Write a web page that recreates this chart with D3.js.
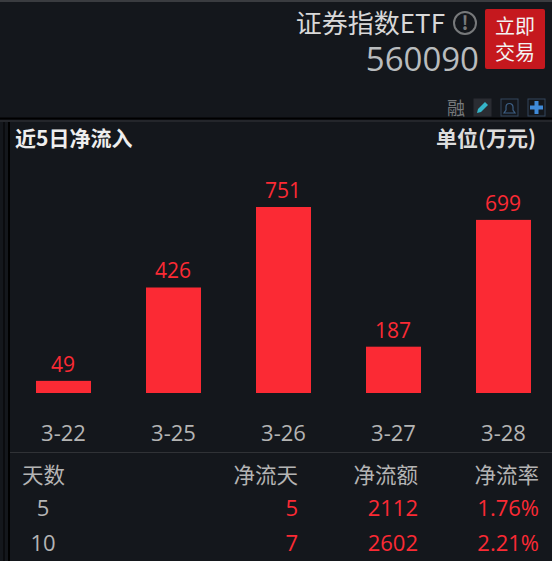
<!DOCTYPE html>
<html lang="zh">
<head>
  <meta charset="UTF-8" />
  <title>近5日净流入</title>
  <script src="https://d3js.org/d3.v7.min.js"></script>
  <style>
    html, body { margin: 0; background: #14171c; overflow: hidden; }
    svg { display: block; }
    text { font-family: "Noto Sans CJK SC", sans-serif; }
    .num { font-family: "Open Sans", "Noto Sans", sans-serif; }
  </style>
</head>
<body>
  <svg id="chart" width="552" height="561"></svg>
  <script>
    // bar data
    const dates = ['3-22', '3-25', '3-26', '3-27', '3-28'];
    const inflows = [49, 426, 751, 187, 699];

    // table below the bars
    const tableHead = ['天数', '净流天', '净流额', '净流率'];
    const tableDays = ['5', '10'];
    const tableFlowDays = ['5', '7'];
    const tableAmount = ['2112', '2602'];
    const tableRate = ['1.76%', '2.21%'];

    const RED = '#fb2a34';
    const GREY = '#b4b4b4';

    const svg = d3.select('#chart');

    const txt = (x, y, s, size, fill, anchor, weight, cls) =>
      svg.append('text')
        .attr('x', x).attr('y', y)
        .attr('font-size', size)
        .attr('fill', fill)
        .attr('text-anchor', anchor || 'start')
        .attr('font-weight', weight || 400)
        .attr('class', cls || null)
        .text(s);

    const rule = (x1, y1, x2, y2, color, w) =>
      svg.append('line')
        .attr('x1', x1).attr('y1', y1).attr('x2', x2).attr('y2', y2)
        .attr('stroke', color).attr('stroke-width', w);

    // ----- window chrome -----
    rule(0, 1, 552, 1, '#3a3c40', 2);
    rule(0, 118.5, 552, 118.5, '#000', 2);
    rule(0, 121, 552, 121, '#34363a', 1);
    rule(4, 122, 4, 561, '#000', 1);
    rule(9, 122, 9, 561, '#000', 2);

    // ----- header -----
    txt(445, 33, '证券指数ETF', 26, '#d8d8d8', 'end');
    txt(479, 71, '560090', 33, '#b9bcbe', 'end', 400, 'num');

    // info icon
    svg.append('circle').attr('cx', 465).attr('cy', 23).attr('r', 11)
      .attr('fill', 'none').attr('stroke', '#77797b').attr('stroke-width', 2);
    txt(465, 30, '!', 19, '#77797b', 'middle', 700);

    // buy button, two lines in one text
    svg.append('rect').attr('x', 485).attr('y', 9).attr('width', 60).attr('height', 60)
      .attr('rx', 2).attr('fill', '#c5181e');
    const buy = txt(515, 34, '', 20, '#f2f2f2', 'middle');
    buy.append('tspan').attr('x', 515).attr('y', 34).text('立即');
    buy.append('tspan').attr('x', 515).attr('y', 60).text('交易');

    // toolbar
    txt(456, 115, '融', 18, '#77797b', 'middle');
    const toolBox = (x, stroke, fill) => svg.append('rect')
      .attr('x', x).attr('y', 99).attr('width', 17).attr('height', 17)
      .attr('fill', fill).attr('stroke', stroke);
    toolBox(474, '#2a2d33', '#2a2d33');
    svg.append('path').attr('d', 'M477 113l1-4 7-7 3 3-7 7z').attr('fill', '#35b5c9');
    toolBox(501, '#33465c', 'none');
    svg.append('path').attr('d', 'M504 113h11l-2-3v-3a3.5 3.5 0 0 0-7 0v3z')
      .attr('fill', 'none').attr('stroke', '#3d5f84').attr('stroke-width', 1.2);
    toolBox(528, '#33465c', 'none');
    svg.append('path').attr('d', 'M530 107.5h13M536.5 101v13')
      .attr('stroke', '#3f8ad8').attr('stroke-width', 4);

    // ----- panel title -----
    txt(15, 146, '近5日净流入', 21, '#eeeeee', 'start', 700);
    txt(536, 146, '单位(万元)', 21, '#dddddd', 'end', 700);

    // ----- bars -----
    const x = d3.scaleBand().domain(dates).range([8.5, 558.5]).paddingInner(0.5).paddingOuter(0.25);
    const y = d3.scaleLinear().domain([0, 751]).range([393, 207]);

    svg.append('g').selectAll('rect')
      .data(inflows)
      .enter().append('rect')
        .attr('x', (d, i) => x(dates[i]))
        .attr('y', d => y(d))
        .attr('width', x.bandwidth())
        .attr('height', d => y(0) - y(d))
        .attr('fill', RED);

    svg.append('g').selectAll('text')
      .data(inflows)
      .enter().append('text')
        .attr('class', 'num')
        .attr('x', (d, i) => x(dates[i]) + x.bandwidth() / 2 - 0.5)
        .attr('y', d => y(d) - 9)
        .attr('text-anchor', 'middle')
        .attr('font-size', 21)
        .attr('fill', RED)
        .text(d => d);

    const axis = d3.axisBottom(x).tickSize(0).tickPadding(0);
    const axisG = svg.append('g').attr('transform', 'translate(0,441)').call(axis);
    axisG.select('.domain').remove();
    axisG.selectAll('text')
      .attr('class', 'num')
      .attr('y', 0).attr('dy', 0)
      .attr('font-size', 22)
      .attr('font-family', null)
      .attr('fill', GREY);

    rule(10, 452.5, 552, 452.5, '#303236', 1);

    // ----- table -----
    txt(22, 483, tableHead[0], 21.5, GREY);
    txt(298, 483, tableHead[1], 21.5, GREY, 'end');
    txt(418, 483, tableHead[2], 21.5, GREY, 'end');
    txt(539, 483, tableHead[3], 21.5, GREY, 'end');

    const rowY = [516, 551];
    rowY.forEach((ry, i) => {
      txt(43, ry, tableDays[i], 22, GREY, 'middle', 400, 'num');
      txt(298, ry, tableFlowDays[i], 22, RED, 'end', 400, 'num');
      txt(418, ry, tableAmount[i], 22, RED, 'end', 400, 'num');
      txt(539, ry, tableRate[i], 22, RED, 'end', 400, 'num');
    });
  </script>
</body>
</html>
